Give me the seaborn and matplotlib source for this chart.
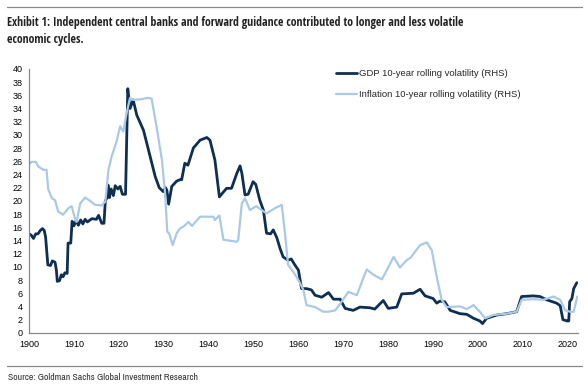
import matplotlib
matplotlib.use("Agg")
import matplotlib.pyplot as plt
import seaborn as sns
import pandas as pd

# GDP 10-year rolling volatility
gdp_years = [1900.0, 1900.5, 1901.0, 1901.5, 1902.0, 1902.5, 1903.0, 1903.4, 1903.7, 1904.2,
             1904.8, 1905.2, 1905.8, 1906.1, 1906.3, 1906.8, 1907.2, 1907.6, 1908.0, 1908.5,
             1908.7, 1909.3, 1909.6, 1910.0, 1910.5, 1911.0, 1911.5, 1912.0, 1912.5, 1913.0,
             1914.0, 1915.0, 1915.5, 1916.2, 1916.7, 1917.0, 1917.4, 1917.6, 1917.9, 1918.3,
             1918.8, 1919.2, 1919.8, 1920.3, 1920.8, 1921.5, 1922.0, 1922.5, 1923.2, 1924.0,
             1925.5, 1927.0, 1928.1, 1929.0, 1929.9, 1930.4, 1930.7, 1931.1, 1931.8, 1932.9,
             1933.6, 1934.0, 1934.7, 1935.4, 1936.6, 1938.1, 1939.6, 1940.3, 1941.4, 1942.4,
             1943.0, 1944.0, 1945.1, 1946.3, 1947.0, 1947.4, 1948.1, 1948.8, 1949.9, 1950.5,
             1951.4, 1952.2, 1952.9, 1953.8, 1954.4, 1955.2, 1955.9, 1956.6, 1957.7, 1958.4,
             1959.2, 1960.0, 1960.7, 1961.8, 1962.9, 1963.7, 1965.2, 1966.7, 1967.8, 1969.3,
             1970.4, 1972.2, 1973.7, 1975.9, 1977.0, 1978.9, 1980.0, 1981.9, 1983.0, 1985.6,
             1987.1, 1988.2, 1990.0, 1990.8, 1991.5, 1992.6, 1993.8, 1996.0, 1997.5, 1999.0,
             2000.4, 2001.0, 2001.9, 2004.2, 2006.4, 2008.6, 2009.7, 2012.3, 2013.8, 2015.3,
             2017.5, 2018.3, 2018.9, 2019.8, 2020.2, 2020.4, 2020.9, 2021.3, 2022.0]
gdp_vals = [15.0, 14.8, 14.3, 15.0, 15.0, 15.5, 15.8, 15.5, 14.5, 10.3,
            10.2, 10.9, 10.7, 9.5, 7.8, 7.9, 8.8, 8.5, 9.1, 9.0,
            13.6, 13.6, 16.9, 16.2, 17.0, 16.3, 17.1, 16.5, 17.2, 16.8,
            17.3, 17.2, 17.8, 16.6, 16.6, 20.0, 20.5, 22.4, 20.5, 21.8,
            20.8, 22.3, 21.8, 22.2, 21.0, 21.0, 37.0, 34.0, 35.3, 33.0,
            30.7, 26.7, 23.7, 22.0, 21.4, 22.0, 21.6, 19.5, 22.2, 23.0,
            23.2, 23.2, 25.7, 25.4, 28.0, 29.2, 29.6, 29.2, 26.2, 20.6,
            21.1, 21.9, 21.9, 24.2, 25.3, 24.2, 20.9, 21.0, 22.9, 22.5,
            20.1, 18.6, 15.1, 15.0, 15.6, 14.4, 12.8, 11.5, 11.0, 11.2,
            10.3, 9.5, 6.7, 6.7, 6.5, 5.7, 5.4, 6.1, 5.1, 5.1,
            3.7, 3.4, 3.9, 3.8, 3.6, 4.9, 3.7, 3.9, 5.9, 6.0,
            6.6, 5.6, 5.2, 4.5, 4.8, 4.7, 3.4, 2.9, 2.8, 2.2,
            1.8, 1.4, 2.2, 2.7, 2.9, 3.2, 5.5, 5.6, 5.5, 5.0,
            4.5, 4.1, 2.0, 1.8, 1.8, 4.7, 5.2, 6.7, 7.6]

# Inflation 10-year rolling volatility
infl_years = [1900.0, 1900.5, 1901.5, 1902.1, 1903.2, 1903.9, 1904.3, 1905.1, 1905.8, 1906.5,
              1907.6, 1908.8, 1909.5, 1910.2, 1910.6, 1911.4, 1912.5, 1913.8, 1914.7, 1916.2,
              1917.0, 1917.7, 1918.4, 1919.5, 1920.3, 1921.0, 1921.8, 1922.5, 1923.2, 1925.0,
              1926.5, 1927.3, 1928.4, 1929.6, 1930.3, 1930.8, 1931.2, 1932.0, 1932.9, 1933.6,
              1934.4, 1935.5, 1936.3, 1938.1, 1941.0, 1941.4, 1942.4, 1943.3, 1946.3, 1946.6,
              1947.4, 1948.1, 1949.2, 1950.6, 1951.8, 1952.9, 1954.8, 1956.3, 1957.0, 1957.7,
              1958.8, 1960.0, 1961.1, 1961.8, 1963.7, 1965.5, 1966.7, 1968.2, 1969.6, 1971.1,
              1973.0, 1975.2, 1976.7, 1978.6, 1981.2, 1982.6, 1984.1, 1985.0, 1987.1, 1988.6,
              1989.7, 1990.8, 1991.9, 1993.0, 1996.0, 1997.5, 1999.0, 2000.4, 2001.6, 2003.4,
              2006.4, 2008.6, 2009.7, 2012.3, 2014.5, 2016.8, 2018.3, 2019.4, 2020.5, 2021.3,
              2022.1]
infl_vals = [25.5, 25.9, 25.9, 25.2, 24.7, 24.7, 21.7, 20.4, 20.1, 18.4,
             17.9, 18.9, 19.2, 17.4, 16.8, 19.6, 20.5, 19.9, 19.4, 19.3,
             19.9, 24.7, 26.7, 29.0, 31.3, 30.5, 33.5, 35.6, 35.3, 35.4,
             35.6, 35.5, 31.3, 26.2, 21.2, 15.3, 15.1, 13.3, 15.1, 15.8,
             16.1, 16.8, 16.2, 17.6, 17.6, 17.1, 17.8, 14.1, 13.8, 14.1,
             19.6, 20.4, 18.6, 19.2, 18.6, 18.1, 18.9, 19.4, 15.1, 10.3,
             9.3, 8.0, 6.5, 4.2, 3.9, 3.2, 3.2, 3.4, 4.7, 6.2,
             5.7, 9.6, 8.8, 8.1, 11.5, 9.9, 11.0, 11.4, 13.3, 13.7,
             12.5, 8.5, 5.0, 3.9, 4.0, 3.6, 4.2, 3.2, 2.2, 2.7,
             2.9, 3.2, 5.0, 5.1, 5.0, 5.5, 5.0, 3.4, 3.2, 3.2,
             5.5]

gdp_label = "GDP 10-year rolling volatility (RHS)"
infl_label = "Inflation 10-year rolling volatility (RHS)"
title = ("Exhibit 1: Independent central banks and forward guidance contributed to longer and less volatile\n"
         "economic cycles.")
source = "Source: Goldman Sachs Global Investment Research"

sns.set_style("white")
plt.rcParams['font.family'] = ['Liberation Sans', 'DejaVu Sans']
narrow = ['Archivo Narrow', 'DejaVu Sans']
narrow_bold = ['Open Sans Condensed', 'Fira Sans Condensed', 'DejaVu Sans']

df_gdp = pd.DataFrame({'year': gdp_years, 'value': gdp_vals})
df_infl = pd.DataFrame({'year': infl_years, 'value': infl_vals})

fig = plt.figure(figsize=(5.88, 3.87), dpi=100)
ax = fig.add_axes([0.0493, 0.140, 0.934, 0.682])

sns.lineplot(data=df_gdp, x='year', y='value', ax=ax, color='#0f2f52', linewidth=2.0,
             label=gdp_label, estimator=None)
sns.lineplot(data=df_infl, x='year', y='value', ax=ax, color='#a9c9e6', linewidth=1.6,
             label=infl_label, estimator=None)

ax.set_xlim(1900, 2022.3)
ax.set_ylim(0, 40)
ax.set_xticks(range(1900, 2021, 10))
ax.set_yticks(range(0, 41, 2))
ax.set_xlabel('')
ax.set_ylabel('')
ax.tick_params(axis='both', labelsize=6.5, labelcolor='#000000', color='#888888',
               length=2.5, width=0.8, direction='out', pad=2)
ax.tick_params(axis='x', length=3)
for s in ['top', 'right']:
    ax.spines[s].set_visible(False)
for s in ['left', 'bottom']:
    ax.spines[s].set_color('#888888')
    ax.spines[s].set_linewidth(0.9)

leg = ax.legend(loc='upper left', bbox_to_anchor=(0.559, 1.0), frameon=False, fontsize=6.8,
                handlelength=2.2, handletextpad=0.25, labelspacing=1.3, borderpad=0,
                borderaxespad=0)

fig.add_artist(plt.Line2D([7 / 588, 582 / 588], [1 - 7 / 387, 1 - 7 / 387], color='#888888', lw=0.9))
fig.add_artist(plt.Line2D([7 / 588, 582 / 588], [1 - 366 / 387, 1 - 366 / 387], color='#888888', lw=0.9))
fig.text(7 / 588, 1 - 16 / 387, title, ha='left', va='top', fontsize=8.6, fontweight='bold',
         family=narrow_bold, color='#222222', linespacing=1.4)
fig.text(8 / 588, 1 - 377 / 387, source, ha='left', va='center', fontsize=7,
         family=narrow, color='#333333')

fig.savefig('out.png', dpi=100)
